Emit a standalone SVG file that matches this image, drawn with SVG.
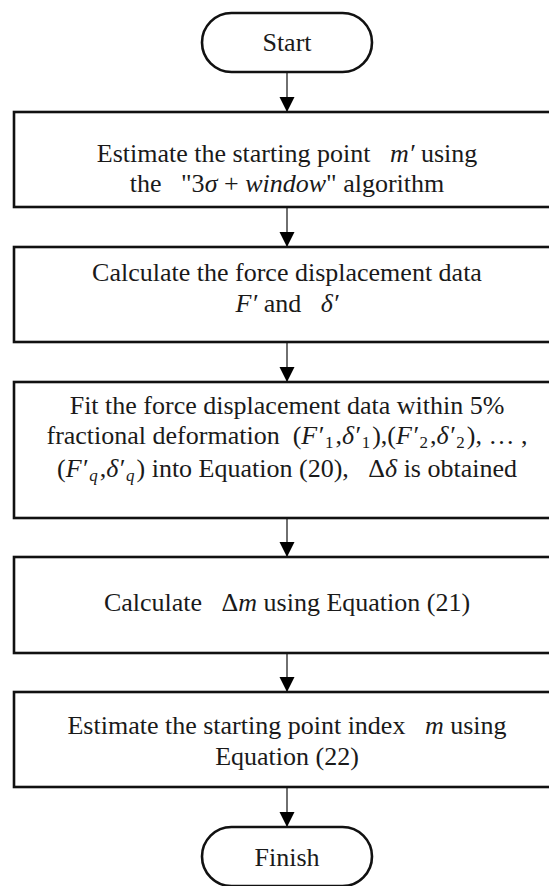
<svg xmlns="http://www.w3.org/2000/svg" width="549" height="886" viewBox="0 0 549 886">
<defs>
<marker id="ah" markerWidth="16" markerHeight="16" refX="15" refY="7.5" orient="auto" markerUnits="userSpaceOnUse">
<path d="M0,0 L15,7.5 L0,15 Z" fill="#000"/>
</marker>
<style>
.box{fill:#fff;stroke:#111;stroke-width:2.6}
.t{font-family:"Liberation Serif","Times New Roman",serif;font-size:26px;fill:#1a1a1a;text-anchor:middle}
.i{font-style:italic}
.s{font-size:17px}
.c{stroke:#222;stroke-width:1.3;fill:none}
</style>
</defs>
<rect width="549" height="886" fill="#fff"/>
<g id="connectors">
<line class="c" x1="287" y1="72" x2="287" y2="112" marker-end="url(#ah)"/>
<line class="c" x1="287" y1="207" x2="287" y2="247" marker-end="url(#ah)"/>
<line class="c" x1="287" y1="342" x2="287" y2="382" marker-end="url(#ah)"/>
<line class="c" x1="287" y1="518" x2="287" y2="557" marker-end="url(#ah)"/>
<line class="c" x1="287" y1="653" x2="287" y2="692" marker-end="url(#ah)"/>
<line class="c" x1="287" y1="787" x2="287" y2="827" marker-end="url(#ah)"/>
</g>
<g id="start">
<rect class="box" x="202" y="13" width="170" height="59" rx="29.5"/>
<text class="t" x="287" y="51">Start</text>
</g>
<g id="step1">
<rect class="box" x="14" y="112" width="550" height="95"/>
<text class="t" x="287" y="162">Estimate the starting point&#160;&#160; <tspan class="i">m′</tspan> using</text>
<text class="t" x="287" y="192">the&#160;&#160; "3<tspan class="i">σ</tspan> + <tspan class="i">window</tspan>" algorithm</text>
</g>
<g id="step2">
<rect class="box" x="14" y="247" width="550" height="95"/>
<text class="t" x="287" y="281">Calculate the force displacement data</text>
<text class="t" x="287" y="312"><tspan class="i">F′</tspan> and&#160;&#160; <tspan class="i">δ′</tspan></text>
</g>
<g id="step3">
<rect class="box" x="14" y="382" width="550" height="136"/>
<text class="t" x="287" y="414">Fit the force displacement data within 5%</text>
<text class="t" x="287" y="444">fractional deformation&#160; (<tspan class="i">F′</tspan><tspan class="s" dx="2" dy="4">1</tspan><tspan dx="2" dy="-4">,</tspan><tspan class="i">δ′</tspan><tspan class="s" dx="2" dy="4">1</tspan><tspan dx="2" dy="-4">),(</tspan><tspan class="i">F′</tspan><tspan class="s" dx="2" dy="4">2</tspan><tspan dx="2" dy="-4">,</tspan><tspan class="i">δ′</tspan><tspan class="s" dx="2" dy="4">2</tspan><tspan dx="2" dy="-4">), … ,</tspan></text>
<text class="t" x="287" y="477">(<tspan class="i">F′</tspan><tspan class="s i" dx="2" dy="4">q</tspan><tspan dx="2" dy="-4">,</tspan><tspan class="i">δ′</tspan><tspan class="s i" dx="2" dy="4">q</tspan><tspan dx="2" dy="-4">) into Equation (20),&#160;&#160; Δ</tspan><tspan class="i">δ</tspan> is obtained</text>
</g>
<g id="step4">
<rect class="box" x="14" y="557" width="550" height="96"/>
<text class="t" x="287" y="611">Calculate&#160;&#160; Δ<tspan class="i">m</tspan> using Equation (21)</text>
</g>
<g id="step5">
<rect class="box" x="14" y="692" width="550" height="95"/>
<text class="t" x="287" y="734">Estimate the starting point index&#160;&#160; <tspan class="i">m</tspan> using</text>
<text class="t" x="287" y="765">Equation (22)</text>
</g>
<g id="finish">
<rect class="box" x="202" y="827" width="170" height="59" rx="29.5"/>
<text class="t" x="287" y="866">Finish</text>
</g>
</svg>
